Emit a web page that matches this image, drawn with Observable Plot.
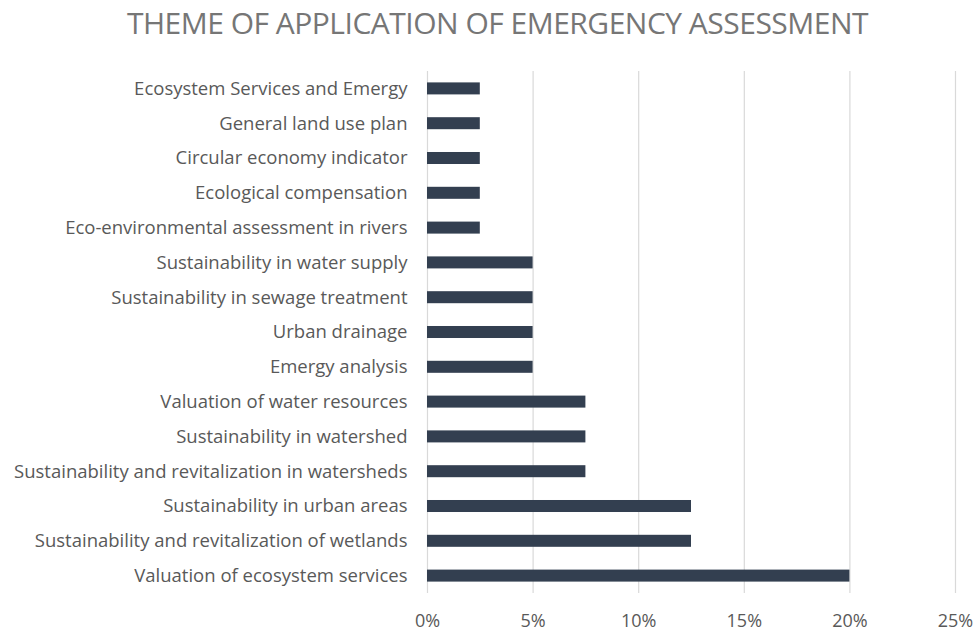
<!DOCTYPE html>
<html>
<head>
<meta charset="utf-8">
<script src="https://cdn.jsdelivr.net/npm/d3@7"></script>
<script src="https://cdn.jsdelivr.net/npm/@observablehq/plot@0.6"></script>
<style>
  body { margin: 0; background: #fff; font-family: "Open Sans", sans-serif; }
  #title { height: 55px; text-align: center; font-size: 30px; color: #767676; line-height: 46px; letter-spacing: -0.5px; padding-left: 20px; }
  #chart svg { display: block; }
</style>
</head>
<body>
<div id="title">THEME OF APPLICATION OF EMERGENCY ASSESSMENT</div>
<div id="chart"></div>
<script>
const categories = [
  "Ecosystem Services and Emergy",
  "General land use plan",
  "Circular economy indicator",
  "Ecological compensation",
  "Eco-environmental assessment in rivers",
  "Sustainability in water supply",
  "Sustainability in sewage treatment",
  "Urban drainage",
  "Emergy analysis",
  "Valuation of water resources",
  "Sustainability in watershed",
  "Sustainability and revitalization in watersheds",
  "Sustainability in urban areas",
  "Sustainability and revitalization of wetlands",
  "Valuation of ecosystem services"
];
const values = [0.025, 0.025, 0.025, 0.025, 0.025, 0.05, 0.05, 0.05, 0.05, 0.075, 0.075, 0.075, 0.125, 0.125, 0.20];
const xTicks = [0, 0.05, 0.10, 0.15, 0.20, 0.25];

const data = categories.map((c, i) => ({category: c, value: values[i]}));

const chart = Plot.plot({
  width: 975,
  height: 576,
  marginTop: 16,
  marginBottom: 38,
  marginLeft: 427,
  marginRight: 20,
  style: {fontFamily: "Open Sans, sans-serif", fontSize: "16px", color: "#595959", background: "#fff"},
  x: {domain: [0, 0.25], ticks: xTicks, tickFormat: d3.format(".0%"), label: null},
  y: {domain: categories, paddingInner: 0.655, paddingOuter: 0.3275, round: false, label: null},
  marks: [
    Plot.gridX(xTicks, {stroke: "#d9d9d9", strokeOpacity: 1, strokeWidth: 1.2}),
    Plot.axisX({ticks: xTicks, tickFormat: d3.format(".0%"), tickSize: 0, tickPadding: 21, fontSize: 18, label: null}),
    Plot.axisY({tickSize: 0, tickPadding: 20, fontSize: 18.5, label: null}),
    Plot.barX(data, {x: "value", y: "category", fill: "#333f50", insetTop: 0, insetBottom: 0})
  ]
});
document.getElementById("chart").appendChild(chart);
</script>
</body>
</html>
